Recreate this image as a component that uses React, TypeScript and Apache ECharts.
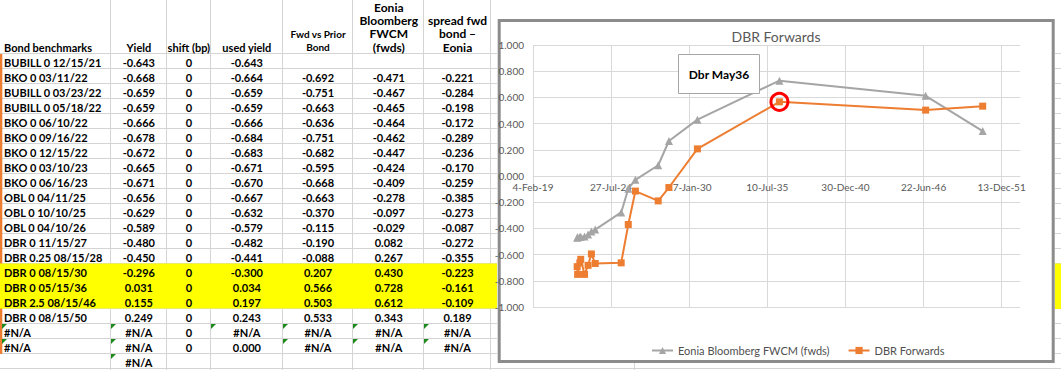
import React, { useEffect, useRef } from 'react';
import * as echarts from 'echarts';

// ---------- DATA ----------
const headers: string[][] = [
  ['Bond benchmarks'],
  ['Yield'],
  ['shift (bp)'],
  ['used yield'],
  ['Fwd vs Prior', 'Bond'],
  ['Eonia', 'Bloomberg', 'FWCM', '(fwds)'],
  ['spread fwd', 'bond –', 'Eonia'],
];

const bonds = [
  'BUBILL 0 12/15/21', 'BKO 0 03/11/22', 'BUBILL 0 03/23/22', 'BUBILL 0 05/18/22', 'BKO 0 06/10/22',
  'BKO 0 09/16/22', 'BKO 0 12/15/22', 'BKO 0 03/10/23', 'BKO 0 06/16/23', 'OBL 0 04/11/25',
  'OBL 0 10/10/25', 'OBL 0 04/10/26', 'DBR 0 11/15/27', 'DBR 0.25 08/15/28', 'DBR 0 08/15/30',
  'DBR 0 05/15/36', 'DBR 2.5 08/15/46', 'DBR 0 08/15/50', '#N/A', '#N/A', '',
];
const yields = [
  '-0.643', '-0.668', '-0.659', '-0.659', '-0.666', '-0.678', '-0.672', '-0.665', '-0.671', '-0.656',
  '-0.629', '-0.589', '-0.480', '-0.450', '-0.296', '0.031', '0.155', '0.249', '#N/A', '#N/A', '#N/A',
];
const shifts = [
  '0', '0', '0', '0', '0', '0', '0', '0', '0', '0', '0', '0', '0', '0', '0', '0', '0', '0', '0', '0', '',
];
const usedYields = [
  '-0.643', '-0.664', '-0.659', '-0.659', '-0.666', '-0.684', '-0.683', '-0.671', '-0.670', '-0.667',
  '-0.632', '-0.579', '-0.482', '-0.441', '-0.300', '0.034', '0.197', '0.243', '#N/A', '0.000', '',
];
const fwdVsPrior = [
  '', '-0.692', '-0.751', '-0.663', '-0.636', '-0.751', '-0.682', '-0.595', '-0.668', '-0.663',
  '-0.370', '-0.115', '-0.190', '-0.088', '0.207', '0.566', '0.503', '0.533', '#N/A', '#N/A', '',
];
const eoniaFwds = [
  '', '-0.471', '-0.467', '-0.465', '-0.464', '-0.462', '-0.447', '-0.424', '-0.409', '-0.278',
  '-0.097', '-0.029', '0.082', '0.267', '0.430', '0.728', '0.612', '0.343', '#N/A', '#N/A', '',
];
const spreads = [
  '', '-0.221', '-0.284', '-0.198', '-0.172', '-0.289', '-0.236', '-0.170', '-0.259', '-0.385',
  '-0.273', '-0.087', '-0.272', '-0.355', '-0.223', '-0.161', '-0.109', '0.189', '#N/A', '#N/A', '',
];
const highlightedRows = [14, 15, 16];
const markedBond = 'DBR 0 05/15/36';
const annotation = 'Dbr May36';
const chartTitle = 'DBR Forwards';
const seriesNames = ['Eonia Bloomberg FWCM (fwds)', 'DBR Forwards'];

// x axis: Excel date serials, ticks every 2000 days from 4-Feb-19 (serial 43500)
const AXIS_ORIGIN = 43500;
const AXIS_STEP = 2000;
const AXIS_SPAN = 12470;
const Y_TICKS_MIN = -1;
const Y_TICKS_MAX = 1;
const Y_STEP = 0.2;

// ---------- helpers ----------
const MONTHS = ['Jan', 'Feb', 'Mar', 'Apr', 'May', 'Jun', 'Jul', 'Aug', 'Sep', 'Oct', 'Nov', 'Dec'];
function serialFromName(name: string): number | null {
  const m = name.match(/(\d{2})\/(\d{2})\/(\d{2})$/);
  if (!m) return null;
  return Date.UTC(2000 + +m[3], +m[1] - 1, +m[2]) / 86400000 + 25569;
}
function fmtSerial(serial: number): string {
  const d = new Date((serial - 25569) * 86400000);
  return `${d.getUTCDate()}-${MONTHS[d.getUTCMonth()]}-${String(d.getUTCFullYear() % 100).padStart(2, '0')}`;
}
function seriesFrom(col: string[]): [number, number][] {
  const out: [number, number][] = [];
  bonds.forEach((b, i) => {
    const s = serialFromName(b);
    const v = parseFloat(col[i]);
    if (s !== null && !isNaN(v)) out.push([s - AXIS_ORIGIN, v]);
  });
  return out;
}

// ---------- layout ----------
const COLS = [0, 111, 166.7, 211, 282.7, 353.3, 424.3, 490.7];
const ROW_TOP = 54;
const ROW_H = 15;
const FONT = 'Lato';
const GRID_TOP = 45;
const GRID_BOTTOM = 63;
const PAGE_H = 370;

function buildTable(): any[] {
  const g: any[] = [];
  const gridStroke = '#d4d4d4';
  const nRows = bonds.length;
  for (let k = 0; k <= nRows; k++) {
    const y = ROW_TOP - 0.5 + ROW_H * k;
    g.push({ type: 'line', shape: { x1: 0, y1: y, x2: k === nRows ? 1061 : 497, y2: y }, style: { stroke: gridStroke, lineWidth: 1 } });
    g.push({ type: 'line', shape: { x1: 1055, y1: y, x2: 1061, y2: y }, style: { stroke: gridStroke, lineWidth: 1 } });
  }
  COLS.slice(1).forEach((x) => {
    const xx = Math.round(x) - 0.5;
    g.push({ type: 'line', shape: { x1: xx, y1: 0, x2: xx, y2: 370 }, style: { stroke: gridStroke, lineWidth: 1 } });
  });
  g.push({ type: 'line', shape: { x1: 634.5, y1: 363, x2: 634.5, y2: 370 }, style: { stroke: gridStroke, lineWidth: 1 } });
  g.push({ type: 'rect', shape: { x: 0, y: ROW_TOP, width: 2.3, height: ROW_H * 20 }, style: { fill: '#ed7d31' } });
  highlightedRows.forEach((r) => {
    const y = ROW_TOP + ROW_H * r - 0.5;
    g.push({ type: 'rect', shape: { x: 0, y, width: 497, height: ROW_H + (highlightedRows.includes(r + 1) ? 0.5 : 0) }, style: { fill: '#ffff00' } });
    g.push({ type: 'rect', shape: { x: 1055, y, width: 6, height: ROW_H + 0.5 }, style: { fill: '#ffff00' } });
  });
  headers.forEach((lines, c) => {
    const n = lines.length;
    const size = c === 4 ? 10 : c >= 5 ? 12 : 11;
    lines.forEach((t, j) => {
      const y = 47.3 - 13.4 * (n - 1 - j);
      g.push({
        type: 'text', x: c === 0 ? 4 : (COLS[c] + COLS[c + 1]) / 2, y,
        style: { text: t, fill: '#000', fontSize: size, fontWeight: 'bold', fontFamily: FONT, align: c === 0 ? 'left' : 'center', verticalAlign: 'middle' },
      });
    });
  });
  const cols = [bonds, yields, shifts, usedYields, fwdVsPrior, eoniaFwds, spreads];
  cols.forEach((col, c) => {
    col.forEach((t, r) => {
      const top = ROW_TOP + ROW_H * r;
      if (t) {
        g.push({
          type: 'text', x: c === 0 ? 4 : (COLS[c] + COLS[c + 1]) / 2, y: top + 8,
          style: { text: t, fill: '#000', fontSize: 11, fontWeight: 'bold', fontFamily: FONT, align: c === 0 ? 'left' : 'center', verticalAlign: 'middle' },
        });
      }
      if (t === '#N/A') {
        const x0 = Math.round(COLS[c]) + (c === 0 ? 2 : 0);
        g.push({ type: 'polygon', shape: { points: [[x0, top], [x0 + 5, top], [x0, top + 5]] }, style: { fill: '#1e8a1e' } });
      }
    });
  });
  g.push({ type: 'rect', shape: { x: 499.2, y: 20.5, width: 554, height: 341 }, style: { fill: 'none', stroke: '#8c8c8c', lineWidth: 3 } });
  g.push({ type: 'text', x: 776, y: 36, style: { text: chartTitle, fill: '#595959', fontSize: 14, fontFamily: FONT, align: 'center', verticalAlign: 'middle' } });
  g.push({ type: 'rect', z: 100, shape: { x: 678.5, y: 54.5, width: 81, height: 39 }, style: { fill: '#fff', stroke: '#a6a6a6', lineWidth: 1 } });
  g.push({ type: 'text', z: 101, x: 719, y: 74.5, style: { text: annotation, fill: '#000', fontSize: 12, fontWeight: 'bold', fontFamily: FONT, align: 'center', verticalAlign: 'middle' } });
  return g;
}

export default function App() {
  const ref = useRef<HTMLDivElement>(null);
  useEffect(() => {
    if (!ref.current) return;
    const chart = echarts.init(ref.current, undefined, { renderer: 'svg' });
    const eonia = seriesFrom(eoniaFwds);
    const fwd = seriesFrom(fwdVsPrior);
    const mIdx = bonds.indexOf(markedBond);
    const mSerial = serialFromName(markedBond) as number;
    // the horizontal axis crosses the vertical one at value 0 (Excel style)
    const gridH = PAGE_H - GRID_TOP - GRID_BOTTOM;
    const zeroOffset = -gridH * (0 - Y_TICKS_MIN) / (Y_TICKS_MAX - Y_TICKS_MIN);
    chart.setOption({
      animation: false,
      textStyle: { fontFamily: FONT },
      grid: { left: 533, right: 41, top: GRID_TOP, bottom: GRID_BOTTOM, containLabel: false },
      xAxis: {
        type: 'value', min: 0, max: AXIS_SPAN, interval: AXIS_STEP,
        offset: zeroOffset,
        axisLine: { show: true, onZero: false, lineStyle: { color: '#d9d9d9', width: 1 } },
        axisTick: { show: false },
        axisLabel: {
          color: '#595959', fontSize: 10, margin: 6,
          formatter: (v: number) => (v % AXIS_STEP === 0 ? fmtSerial(v + AXIS_ORIGIN) : ''),
        },
        splitLine: { show: true, showMaxLine: false, lineStyle: { color: '#d9d9d9', width: 1 } },
      },
      yAxis: {
        type: 'value', min: Y_TICKS_MIN, max: Y_TICKS_MAX, interval: Y_STEP,
        axisLine: { show: false, onZero: false }, axisTick: { show: false },
        axisLabel: { color: '#595959', fontSize: 10, margin: 9, formatter: (v: number) => (Math.abs(v) < 1e-9 ? 0 : v).toFixed(3) },
        splitLine: { show: true, lineStyle: { color: '#d9d9d9', width: 1 } },
      },
      legend: {
        left: 646, top: 340, itemGap: 18, itemWidth: 21, itemHeight: 9,
        textStyle: { color: '#505050', fontSize: 11, fontFamily: FONT },
        data: seriesNames,
      },
      series: [
        {
          name: seriesNames[0], type: 'line', data: eonia, symbol: 'triangle', symbolSize: 8,
          itemStyle: { color: '#a5a5a5' }, lineStyle: { color: '#a5a5a5', width: 2 }, emphasis: { disabled: true },
        },
        {
          name: seriesNames[1], type: 'line', data: fwd, symbol: 'rect', symbolSize: 7,
          itemStyle: { color: '#ed7d31' }, lineStyle: { color: '#ed7d31', width: 2 }, emphasis: { disabled: true },
          markPoint: {
            silent: true, symbol: 'circle', symbolSize: 17, label: { show: false },
            itemStyle: { color: 'rgba(0,0,0,0)', borderColor: '#ff0000', borderWidth: 3 },
            data: [{ coord: [mSerial - AXIS_ORIGIN, parseFloat(fwdVsPrior[mIdx])] }],
          },
        },
      ],
      graphic: buildTable(),
    });
    return () => chart.dispose();
  }, []);
  return <div ref={ref} style={{ position: 'absolute', left: 0, top: 0, width: 1061, height: 370 }} />;
}
